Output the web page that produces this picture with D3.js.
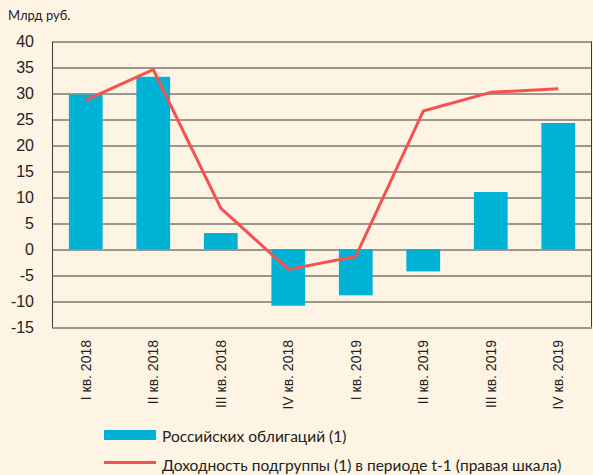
<!DOCTYPE html>
<html>
<head>
<meta charset="utf-8">
<script src="https://cdn.jsdelivr.net/npm/d3@7"></script>
<style>
  body { margin: 0; background: #fdf4e4; }
  svg { display: block; }
</style>
</head>
<body>
<svg id="chart" width="593" height="475"></svg>
<script>
"use strict";

const quarters = ["I кв. 2018", "II кв. 2018", "III кв. 2018", "IV кв. 2018",
                  "I кв. 2019", "II кв. 2019", "III кв. 2019", "IV кв. 2019"];
const bondFlows = [29.8, 33.2, 3.1, -10.9, -8.9, -4.3, 11.0, 24.3];
const prevYield = [28.7, 34.6, 7.9, -3.9, -1.4, 26.6, 30.2, 30.9];
const yTicks = [-15, -10, -5, 0, 5, 10, 15, 20, 25, 30, 35, 40];
const legendLabels = ["Российских облигаций (1)", "Доходность подгруппы (1) в периоде t-1 (правая шкала)"];

const svg = d3.select("#chart");
const margin = {top: 41.5, right: 1, bottom: 148, left: 52};
const width = 593 - margin.left - margin.right;
const height = 475 - margin.top - margin.bottom;

const x = d3.scaleBand().domain(quarters).range([0, width]).paddingInner(0.5).paddingOuter(0.25);
const y = d3.scaleLinear().domain([-15, 40]).range([height, 0]);

const g = svg.append("g").attr("transform", `translate(${margin.left},${margin.top})`);

// gridlines
g.selectAll(".grid")
    .data(yTicks)
    .enter().append("line")
    .attr("x1", 0).attr("x2", width)
    .attr("y1", d => Math.round(y(d)) + 0.5)
    .attr("y2", d => Math.round(y(d)) + 0.5)
    .attr("stroke", "#3c3a37")
    .attr("stroke-width", 1);

// right border
g.append("line")
    .attr("x1", width - 0.5).attr("x2", width - 0.5)
    .attr("y1", y(40)).attr("y2", y(-15))
    .attr("stroke", "#3c3a37");

// bars
g.selectAll(".bar")
    .data(bondFlows)
    .enter().append("rect")
    .attr("x", (d, i) => x(quarters[i]))
    .attr("width", x.bandwidth())
    .attr("y", d => y(Math.max(0, d)))
    .attr("height", d => Math.abs(y(d) - y(0)))
    .attr("fill", "#00b2d5");

// left axis (plain hyphen for negatives)
const yAxis = d3.axisLeft(y).tickValues(yTicks).tickFormat(d => String(d)).tickSize(0).tickPadding(18);
const ay = g.append("g").call(yAxis);
ay.select(".domain").attr("stroke", "#3c3a37");
ay.selectAll("text")
    .attr("font-family", "Liberation Sans, Arial, sans-serif")
    .attr("font-size", 16)
    .attr("fill", "#222");

// line
const line = d3.line()
    .x((d, i) => x(quarters[i]) + x.bandwidth() / 2)
    .y(d => y(d));

g.append("path")
    .datum(prevYield)
    .attr("d", line)
    .attr("fill", "none")
    .attr("stroke", "#f5524f")
    .attr("stroke-width", 3)
    .attr("stroke-linejoin", "round");

// category labels, rotated
g.selectAll(".xlab")
    .data(quarters)
    .enter().append("text")
    .attr("transform", d => `translate(${x(d) + x.bandwidth() / 2 + 5},${height + 13}) rotate(-90)`)
    .attr("text-anchor", "end")
    .attr("font-family", "Liberation Sans, Arial, sans-serif")
    .attr("font-size", 14)
    .attr("fill", "#222")
    .text(d => d);

// units label
svg.append("text")
    .attr("x", 8).attr("y", 20)
    .attr("font-family", "Lato, sans-serif")
    .attr("font-size", 13)
    .attr("fill", "#222")
    .text("Млрд руб.");

// legend
const lg = svg.append("g");
lg.append("rect")
    .attr("x", 104).attr("y", 430).attr("width", 52).attr("height", 10)
    .attr("fill", "#00b2d5");
lg.append("line")
    .attr("x1", 104).attr("x2", 156).attr("y1", 462.5).attr("y2", 462.5)
    .attr("stroke", "#f5524f").attr("stroke-width", 3);
lg.selectAll(".ltext")
    .data(legendLabels)
    .enter().append("text")
    .attr("x", 162)
    .attr("y", (d, i) => 442 + i * 29)
    .attr("font-family", "Lato, sans-serif")
    .attr("font-size", 15.5)
    .attr("fill", "#222")
    .text(d => d);
</script>
</body>
</html>
